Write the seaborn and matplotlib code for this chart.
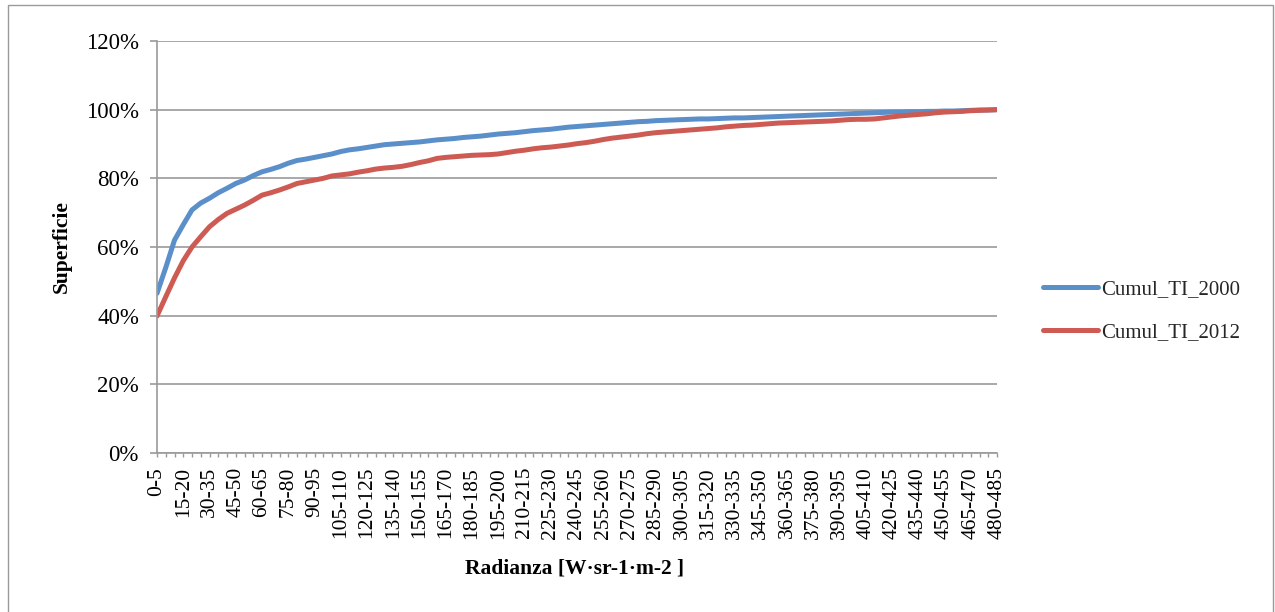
import matplotlib
matplotlib.use("Agg")
import matplotlib.pyplot as plt
import matplotlib.ticker as mticker
from matplotlib.patches import Rectangle
import seaborn as sns
import pandas as pd
import numpy as np

# ---- data ----
categories = [f"{a}-{a+5}" for a in range(0, 485, 5)]  # 0-5 ... 480-485

cumul_2000 = [46.5, 54.0, 62.0, 66.5, 70.8, 72.8, 74.2, 75.8, 77.1, 78.5,
              79.5, 80.8, 81.9, 82.6, 83.4, 84.4, 85.2, 85.6, 86.1, 86.6,
              87.1, 87.8, 88.3, 88.6, 89.0, 89.4, 89.8, 90.0, 90.2, 90.4,
              90.6, 90.9, 91.2, 91.4, 91.6, 91.9, 92.1, 92.3, 92.6, 92.9,
              93.1, 93.3, 93.6, 93.9, 94.1, 94.3, 94.6, 94.9, 95.1, 95.3,
              95.5, 95.7, 95.9, 96.1, 96.3, 96.5, 96.6, 96.8, 96.9, 97.0,
              97.1, 97.2, 97.3, 97.3, 97.4, 97.5, 97.6, 97.6, 97.7, 97.8,
              97.9, 98.0, 98.1, 98.2, 98.3, 98.4, 98.5, 98.6, 98.7, 98.8,
              98.9, 99.0, 99.1, 99.2, 99.3, 99.3, 99.4, 99.4, 99.5, 99.5,
              99.6, 99.6, 99.7, 99.8, 99.9, 99.9, 100.0]

cumul_2012 = [39.9, 45.5, 51.0, 56.0, 60.0, 63.0, 65.9, 68.0, 69.8, 71.0,
              72.2, 73.6, 75.1, 75.8, 76.6, 77.5, 78.5, 79.0, 79.5, 80.0,
              80.7, 81.0, 81.3, 81.8, 82.2, 82.7, 83.0, 83.2, 83.5, 84.0,
              84.6, 85.1, 85.8, 86.1, 86.3, 86.5, 86.7, 86.8, 86.9, 87.1,
              87.5, 87.9, 88.2, 88.6, 88.9, 89.1, 89.4, 89.7, 90.1, 90.4,
              90.8, 91.3, 91.7, 92.0, 92.3, 92.6, 93.0, 93.3, 93.5, 93.7,
              93.9, 94.1, 94.3, 94.5, 94.7, 95.0, 95.2, 95.4, 95.5, 95.7,
              95.9, 96.1, 96.2, 96.3, 96.4, 96.5, 96.6, 96.7, 96.9, 97.1,
              97.2, 97.2, 97.3, 97.6, 97.9, 98.2, 98.4, 98.6, 98.8, 99.1,
              99.3, 99.4, 99.5, 99.7, 99.8, 99.9, 100.0]

series_names = ["Cumul_TI_2000", "Cumul_TI_2012"]
y_ticks = [0, 0.2, 0.4, 0.6, 0.8, 1.0, 1.2]
x_label = "Radianza [W·sr-1·m-2 ]"
y_label = "Superficie"

# ---- style ----
sns.set_theme(style="white")
plt.rcParams['font.family'] = ['Liberation Serif', 'DejaVu Serif']
plt.rcParams['axes.unicode_minus'] = False

W, H = 1275, 612
fig = plt.figure(figsize=(W / 100, H / 100), dpi=100)
ax = fig.add_axes([157 / W, 1 - 453 / H, 840 / W, 412 / H])

idx = np.arange(len(categories))
df = pd.DataFrame({
    "x": np.concatenate([idx, idx]),
    "value": np.concatenate([np.array(cumul_2000), np.array(cumul_2012)]) / 100.0,
    "serie": [series_names[0]] * len(idx) + [series_names[1]] * len(idx),
})

palette = {series_names[0]: "#5B8FCA", series_names[1]: "#CD5B54"}
sns.lineplot(data=df, x="x", y="value", hue="serie", palette=palette,
             linewidth=3.6, ax=ax, legend=True, solid_capstyle="round")

grid_c = "#9A9A9A"
ax.set_xlim(0, len(categories) - 1)
ax.set_ylim(0, 1.2)
ax.set_yticks(y_ticks)
ax.yaxis.set_major_formatter(mticker.FuncFormatter(lambda v, p: f"{v*100:.0f}%"))
ax.yaxis.grid(True, color=grid_c, linewidth=1.2)
ax.xaxis.grid(False)
ax.set_axisbelow(True)

ax.set_xticks(idx)
ax.set_xticklabels([c if i % 3 == 0 else "" for i, c in enumerate(categories)],
                   rotation=90, ha="center", va="top")

for s in ["top", "right"]:
    ax.spines[s].set_visible(False)
for s in ["left", "bottom"]:
    ax.spines[s].set_color(grid_c)
    ax.spines[s].set_linewidth(1.2)

ax.tick_params(axis="y", which="both", left=True, length=5, width=1.2,
               color=grid_c, pad=8, labelsize=16.5, labelcolor="black")
ax.tick_params(axis="x", which="both", bottom=True, length=3, width=1.0,
               color=grid_c, pad=7, labelsize=15.5, labelcolor="black")

ax.set_xlabel(x_label, fontsize=15.5, fontweight="bold", color="black")
ax.set_ylabel(y_label, fontsize=15.5, fontweight="bold", color="black")
ax.xaxis.set_label_coords((575 - 157) / 840, (453 - 568) / 412)
ax.yaxis.set_label_coords((62 - 157) / 840, 0.5)
ax.xaxis.label.set_va("center")
ax.yaxis.label.set_va("center")

handles, labels = ax.get_legend_handles_labels()
for h in handles:
    h.set_linewidth(3.6)
    h.set_solid_capstyle("round")
ax.legend(handles, labels, loc="center left",
          bbox_to_anchor=(1043 / W, 1 - 311 / H), bbox_transform=fig.transFigure,
          frameon=False, fontsize=15, handlelength=2.65, handletextpad=0.15,
          labelspacing=1.15, borderpad=0, borderaxespad=0)

# outer chart-area border
fig.patches.append(Rectangle((8 / W, -0.02), (1273 - 8) / W, 1 - 5 / H + 0.02,
                             transform=fig.transFigure, fill=False,
                             edgecolor=grid_c, linewidth=1.0))

fig.savefig("out.png", dpi=100)
